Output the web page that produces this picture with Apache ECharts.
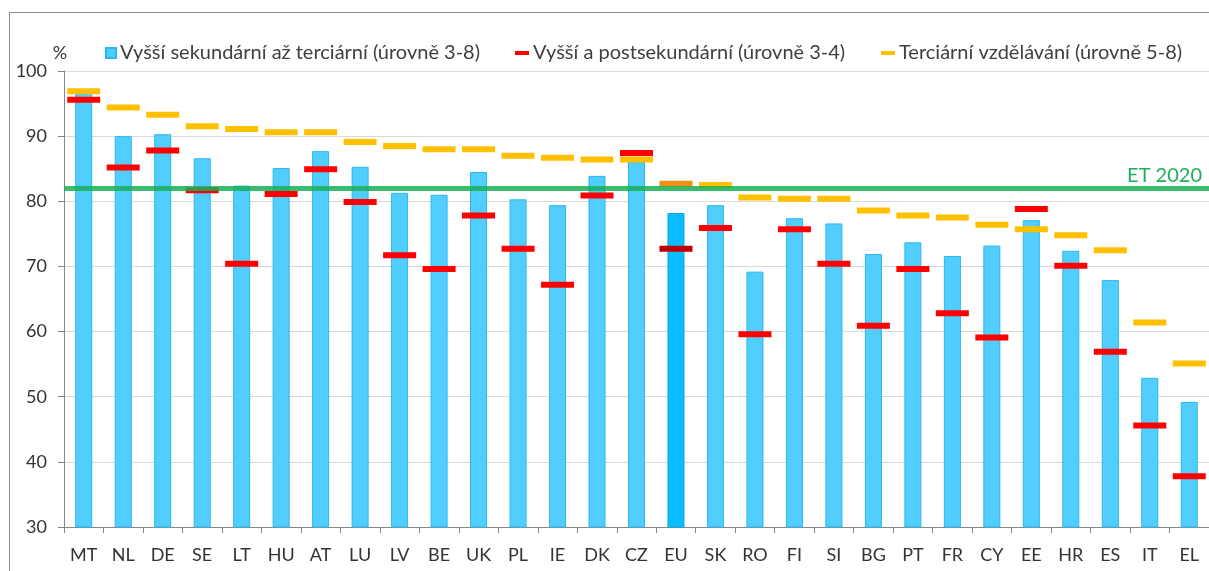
<!DOCTYPE html>
<html>
<head>
<meta charset="utf-8">
<script src="https://cdn.jsdelivr.net/npm/echarts@6/dist/echarts.min.js"></script>
<style>
html, body { margin: 0; padding: 0; background: #fff; }
#chart { width: 1209px; height: 571px; }
</style>
</head>
<body>
<div id="chart"></div>
<script>
const categories = ['MT', 'NL', 'DE', 'SE', 'LT', 'HU', 'AT', 'LU', 'LV', 'BE', 'UK', 'PL', 'IE', 'DK', 'CZ', 'EU', 'SK', 'RO', 'FI', 'SI', 'BG', 'PT', 'FR', 'CY', 'EE', 'HR', 'ES', 'IT', 'EL']
// úrovně 3-8
const totalValues = [96.6, 90.0, 90.3, 86.6, 82.4, 85.1, 87.7, 85.3, 81.3, 81.0, 84.5, 80.3, 79.4, 83.9, 86.1, 78.2, 79.4, 69.2, 77.4, 76.6, 71.9, 73.7, 71.6, 73.2, 77.1, 72.4, 67.9, 52.9, 49.2]
// úrovně 3-4
const upperValues = [95.6, 85.2, 87.8, 81.7, 70.4, 81.1, 84.9, 79.9, 71.7, 69.6, 77.8, 72.7, 67.2, 80.9, 87.4, 72.7, 75.9, 59.6, 75.7, 70.4, 60.9, 69.6, 62.8, 59.1, 78.8, 70.1, 56.9, 45.6, 37.8]
// úrovně 5-8
const tertiaryValues = [96.9, 94.4, 93.3, 91.5, 91.1, 90.6, 90.6, 89.1, 88.5, 88.0, 88.0, 87.0, 86.7, 86.4, 86.4, 82.7, 82.5, 80.6, 80.4, 80.4, 78.6, 77.8, 77.5, 76.4, 75.7, 74.8, 72.5, 61.4, 55.1]
const target = 82
const targetLabel = 'ET 2020'
const highlight = 'EU'

const names = [
	'Vyšší sekundární až terciární (úrovně 3-8)',
	'Vyšší a postsekundární (úrovně 3-4)',
	'Terciární vzdělávání (úrovně 5-8)'
]

const font = 'Lato'
const textColor = '#333'

function withHighlight(values, color) {
	return values.map((v, i) => categories[i] === highlight ? { value: v, itemStyle: color } : v)
}

const chart = echarts.init(document.getElementById('chart'))
const legendBase = {
	top: 38,
	itemGap: 0,
	icon: 'rect',
	textStyle: { fontFamily: font, fontSize: 20, color: '#404040', padding: [0, 0, 0, -1] }
}
chart.setOption({
	animation: false,
	graphic: [
		{
			type: 'rect',
			shape: { x: 9.5, y: 12.5, width: 1400, height: 700 },
			style: { fill: 'none', stroke: '#8c8c8c', lineWidth: 1 },
			silent: true
		},
		{
			type: 'text',
			x: 1202,
			y: 186,
			style: {
				text: targetLabel,
				fill: '#1fae5c',
				font: '20px Lato',
				align: 'right',
				verticalAlign: 'bottom'
			},
			z: 20
		}
	],
	legend: [
		Object.assign({}, legendBase, { left: 100, itemWidth: 10, itemHeight: 10, data: [names[0]] }),
		Object.assign({}, legendBase, { left: 510, itemWidth: 14, itemHeight: 4, data: [names[1]] }),
		Object.assign({}, legendBase, { left: 876, itemWidth: 14, itemHeight: 4, data: [names[2]] })
	],
	grid: {
		left: 64,
		top: 71,
		width: 1154,
		height: 456
	},
	xAxis: {
		type: 'category',
		data: categories,
		axisLine: { lineStyle: { color: '#868686', width: 1 } },
		axisTick: { show: true, length: 6, lineStyle: { color: '#868686' } },
		axisLabel: { fontFamily: font, fontSize: 18, color: textColor, margin: 19 }
	},
	yAxis: {
		type: 'value',
		min: 30,
		max: 100,
		interval: 10,
		name: '%',
		nameLocation: 'end',
		nameGap: 3,
		nameTextStyle: { fontFamily: font, fontSize: 18, color: textColor, padding: [0, 8, 0, 0] },
		axisLine: { show: true, lineStyle: { color: '#868686', width: 1 } },
		axisTick: { show: true, length: 6, lineStyle: { color: '#868686' } },
		axisLabel: { fontFamily: font, fontSize: 18, color: textColor, margin: 17 },
		splitLine: { lineStyle: { color: '#d9d9d9', width: 1 } }
	},
	series: [
		{
			name: names[0],
			type: 'bar',
			barWidth: 17,
			z: 2,
			itemStyle: { color: '#52cefe', borderColor: '#2ab8ec', borderWidth: 1 },
			data: withHighlight(totalValues, { color: '#0bbdfe', borderColor: '#08a8e6' })
		},
		{
			name: names[2],
			type: 'scatter',
			symbol: 'rect',
			symbolSize: [33, 6],
			z: 3,
			itemStyle: { color: '#ffc000', opacity: 1 },
			data: withHighlight(tertiaryValues, { color: '#ef9212' })
		},
		{
			name: names[1],
			type: 'scatter',
			symbol: 'rect',
			symbolSize: [33, 6],
			z: 4,
			itemStyle: { color: '#ff0000', opacity: 1 },
			data: withHighlight(upperValues, { color: '#c00000' })
		},
		{
			name: 'target',
			type: 'line',
			data: [],
			z: 10,
			markLine: {
				silent: true,
				symbol: 'none',
				label: { show: false },
				lineStyle: { color: 'rgba(25,175,85,0.85)', width: 5, type: 'solid' },
				data: [{ yAxis: target }]
			}
		}
	]
})
</script>
</body>
</html>
